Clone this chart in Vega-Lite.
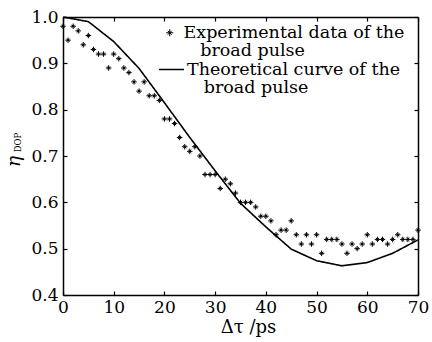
{
  "$schema": "https://vega.github.io/schema/vega-lite/v6.json",
  "width": 355,
  "height": 278,
  "autosize": {"type": "none"},
  "padding": {"left": 63, "top": 17, "right": 14, "bottom": 47},
  "background": "white",
  "config": {
    "font": "DejaVu Serif",
    "view": {"stroke": null},
    "style": {"guide-label": {"lineHeight": 18.5}},
    "axis": {
      "domainColor": "black",
      "domainWidth": 1.5,
      "tickColor": "black",
      "tickWidth": 1.2,
      "tickSize": -4,
      "grid": false,
      "labelColor": "black",
      "labelFont": "DejaVu Serif",
      "labelFontSize": 17,
      "titleColor": "black",
      "titleFont": "DejaVu Serif",
      "titleFontWeight": "normal"
    }
  },
  "datasets": {
    "exp": [
      {"t": 0, "eta": 0.98, "series": "exp"},
      {"t": 1, "eta": 0.95, "series": "exp"},
      {"t": 2, "eta": 0.98, "series": "exp"},
      {"t": 3, "eta": 0.97, "series": "exp"},
      {"t": 4, "eta": 0.94, "series": "exp"},
      {"t": 5, "eta": 0.96, "series": "exp"},
      {"t": 6, "eta": 0.93, "series": "exp"},
      {"t": 7, "eta": 0.92, "series": "exp"},
      {"t": 8, "eta": 0.92, "series": "exp"},
      {"t": 9, "eta": 0.89, "series": "exp"},
      {"t": 10, "eta": 0.92, "series": "exp"},
      {"t": 11, "eta": 0.91, "series": "exp"},
      {"t": 12, "eta": 0.89, "series": "exp"},
      {"t": 13, "eta": 0.88, "series": "exp"},
      {"t": 14, "eta": 0.86, "series": "exp"},
      {"t": 15, "eta": 0.84, "series": "exp"},
      {"t": 16, "eta": 0.86, "series": "exp"},
      {"t": 17, "eta": 0.83, "series": "exp"},
      {"t": 18, "eta": 0.83, "series": "exp"},
      {"t": 19, "eta": 0.82, "series": "exp"},
      {"t": 20, "eta": 0.78, "series": "exp"},
      {"t": 21, "eta": 0.78, "series": "exp"},
      {"t": 22, "eta": 0.77, "series": "exp"},
      {"t": 23, "eta": 0.74, "series": "exp"},
      {"t": 24, "eta": 0.72, "series": "exp"},
      {"t": 25, "eta": 0.71, "series": "exp"},
      {"t": 26, "eta": 0.72, "series": "exp"},
      {"t": 27, "eta": 0.70, "series": "exp"},
      {"t": 28, "eta": 0.66, "series": "exp"},
      {"t": 29, "eta": 0.66, "series": "exp"},
      {"t": 30, "eta": 0.66, "series": "exp"},
      {"t": 31, "eta": 0.63, "series": "exp"},
      {"t": 32, "eta": 0.65, "series": "exp"},
      {"t": 33, "eta": 0.64, "series": "exp"},
      {"t": 34, "eta": 0.62, "series": "exp"},
      {"t": 35, "eta": 0.60, "series": "exp"},
      {"t": 36, "eta": 0.60, "series": "exp"},
      {"t": 37, "eta": 0.60, "series": "exp"},
      {"t": 38, "eta": 0.59, "series": "exp"},
      {"t": 39, "eta": 0.57, "series": "exp"},
      {"t": 40, "eta": 0.57, "series": "exp"},
      {"t": 41, "eta": 0.56, "series": "exp"},
      {"t": 42, "eta": 0.53, "series": "exp"},
      {"t": 43, "eta": 0.54, "series": "exp"},
      {"t": 44, "eta": 0.54, "series": "exp"},
      {"t": 45, "eta": 0.56, "series": "exp"},
      {"t": 46, "eta": 0.53, "series": "exp"},
      {"t": 47, "eta": 0.51, "series": "exp"},
      {"t": 48, "eta": 0.53, "series": "exp"},
      {"t": 49, "eta": 0.51, "series": "exp"},
      {"t": 50, "eta": 0.53, "series": "exp"},
      {"t": 51, "eta": 0.49, "series": "exp"},
      {"t": 52, "eta": 0.52, "series": "exp"},
      {"t": 53, "eta": 0.52, "series": "exp"},
      {"t": 54, "eta": 0.52, "series": "exp"},
      {"t": 55, "eta": 0.51, "series": "exp"},
      {"t": 56, "eta": 0.49, "series": "exp"},
      {"t": 57, "eta": 0.51, "series": "exp"},
      {"t": 58, "eta": 0.50, "series": "exp"},
      {"t": 59, "eta": 0.51, "series": "exp"},
      {"t": 60, "eta": 0.53, "series": "exp"},
      {"t": 61, "eta": 0.51, "series": "exp"},
      {"t": 62, "eta": 0.52, "series": "exp"},
      {"t": 63, "eta": 0.52, "series": "exp"},
      {"t": 64, "eta": 0.51, "series": "exp"},
      {"t": 65, "eta": 0.52, "series": "exp"},
      {"t": 66, "eta": 0.53, "series": "exp"},
      {"t": 67, "eta": 0.52, "series": "exp"},
      {"t": 68, "eta": 0.52, "series": "exp"},
      {"t": 69, "eta": 0.52, "series": "exp"},
      {"t": 70, "eta": 0.54, "series": "exp"}
    ],
    "theory": [
      {"t": 0, "eta": 1.0, "series": "theory"},
      {"t": 5, "eta": 0.99, "series": "theory"},
      {"t": 10, "eta": 0.947, "series": "theory"},
      {"t": 15, "eta": 0.889, "series": "theory"},
      {"t": 20, "eta": 0.815, "series": "theory"},
      {"t": 25, "eta": 0.74, "series": "theory"},
      {"t": 30, "eta": 0.668, "series": "theory"},
      {"t": 35, "eta": 0.598, "series": "theory"},
      {"t": 40, "eta": 0.547, "series": "theory"},
      {"t": 45, "eta": 0.499, "series": "theory"},
      {"t": 50, "eta": 0.474, "series": "theory"},
      {"t": 55, "eta": 0.463, "series": "theory"},
      {"t": 60, "eta": 0.47, "series": "theory"},
      {"t": 65, "eta": 0.49, "series": "theory"},
      {"t": 70, "eta": 0.519, "series": "theory"}
    ]
  },
  "layer": [
    {
      "data": {"name": "exp"},
      "mark": {"type": "point", "filled": false, "stroke": "black", "strokeWidth": 1, "size": 30, "opacity": 1},
      "encoding": {
        "x": {
          "field": "t", "type": "quantitative",
          "scale": {"domain": [0, 70], "nice": false, "zero": false},
          "axis": {"orient": "bottom", "values": [0, 10, 20, 30, 40, 50, 60, 70], "labelPadding": 8, "labelFlush": false, "title": "Δτ /ps", "titleFontSize": 18, "titlePadding": 3, "titleX": 185}
        },
        "y": {
          "field": "eta", "type": "quantitative",
          "scale": {"domain": [0.4, 1.0], "nice": false, "zero": false},
          "axis": {"orient": "left", "values": [0.4, 0.5, 0.6, 0.7, 0.8, 0.9, 1.0], "format": ".1f", "labelPadding": 9, "labelFlush": false, "title": "η", "titleFontStyle": "italic", "titleFontSize": 19, "titleAngle": -90, "titleX": -44, "titleY": 144, "titleAlign": "center", "titleBaseline": "alphabetic"}
        },
        "shape": {
          "field": "series", "type": "nominal",
          "scale": {"domain": ["exp"], "range": ["M-1,0L1,0M0,-1L0,1M-0.55,-0.55L0.55,0.55M-0.55,0.55L0.55,-0.55"]},
          "legend": {
            "orient": "none", "legendX": 98, "legendY": 7, "title": null,
            "labelExpr": "['Experimental data of the', '\u200b\u00a0\u00a0\u00a0broad pulse']",
            "labelFont": "DejaVu Serif", "labelFontSize": 17.5, "labelColor": "black", "labelLimit": 400,
            "symbolStrokeColor": "black", "symbolFillColor": "transparent", "symbolStrokeWidth": 1, "symbolSize": 50,
            "labelOffset": 5, "padding": 0
          }
        }
      }
    },
    {
      "data": {"name": "theory"},
      "mark": {"type": "line", "stroke": "black", "strokeWidth": 1.6},
      "encoding": {
        "x": {
          "field": "t", "type": "quantitative",
          "axis": {"orient": "top", "values": [0, 10, 20, 30, 40, 50, 60, 70], "labels": false, "title": null}
        },
        "y": {
          "field": "eta", "type": "quantitative",
          "axis": {"orient": "right", "values": [0.4, 0.5, 0.6, 0.7, 0.8, 0.9, 1.0], "labels": false, "title": "DOP", "titleFontSize": 8.5, "titleAngle": -90, "titleX": -398, "titleY": 125, "titleAlign": "center", "titleBaseline": "alphabetic"}
        },
        "strokeDash": {
          "field": "series", "type": "nominal",
          "scale": {"domain": ["theory"], "range": [[1, 0]]},
          "legend": {
            "orient": "none", "legendX": 95, "legendY": 39, "title": null,
            "labelExpr": "['Theoretical curve of the', '\u200b\u00a0\u00a0\u00a0broad pulse']",
            "labelFont": "DejaVu Serif", "labelFontSize": 17.5, "labelColor": "black", "labelLimit": 400,
            "symbolType": "stroke", "symbolStrokeColor": "black", "symbolStrokeWidth": 1.5, "symbolSize": 625,
            "labelOffset": 2, "padding": 0
          }
        }
      }
    }
  ],
  "resolve": {"axis": {"x": "independent", "y": "independent"}}
}
